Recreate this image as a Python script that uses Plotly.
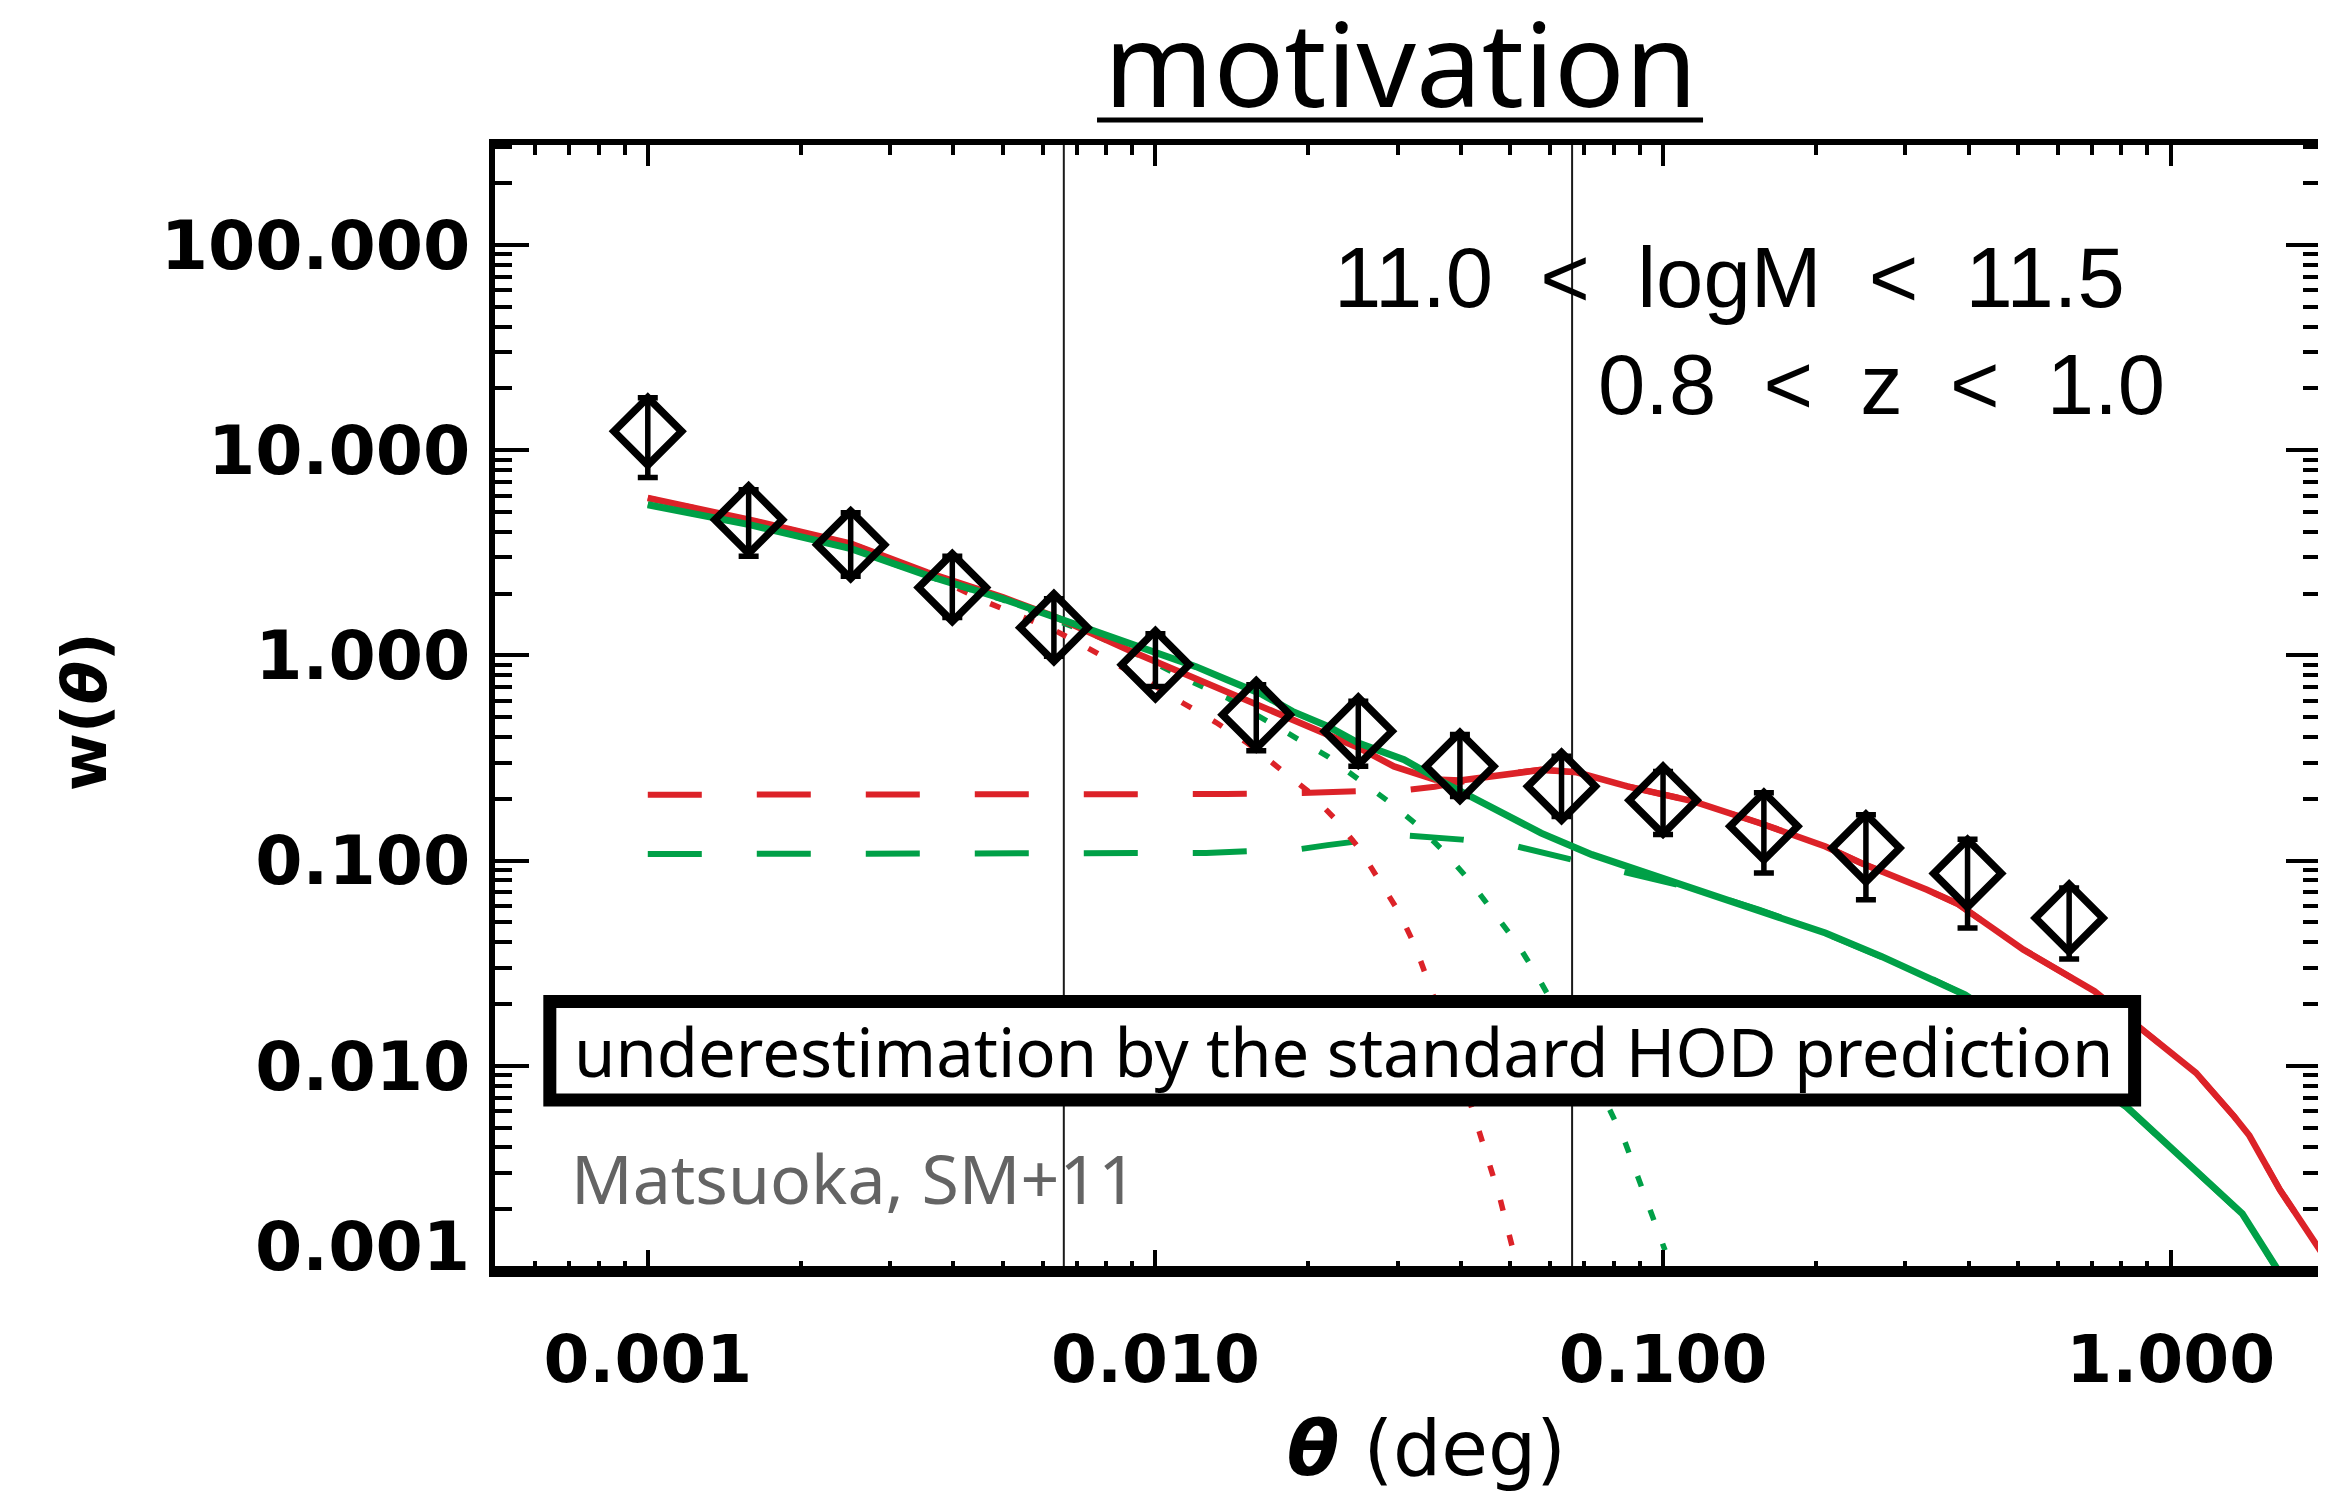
import plotly.graph_objects as go

# ---------------- data ----------------
theta_obs = [0.001, 0.00158, 0.00251, 0.00398, 0.00631, 0.01, 0.0158, 0.0251,
             0.0398, 0.0631, 0.1, 0.158, 0.251, 0.398, 0.631]
w_obs = [12.35, 4.58, 3.46, 2.14, 1.365, 0.901, 0.514, 0.427, 0.288, 0.230,
         0.197, 0.147, 0.115, 0.0866, 0.0525]
w_err_plus = [5.65, 1.84, 1.50, 0.90, 0.524, 0.375, 0.206, 0.170, 0.123, 0.092,
              0.075, 0.067, 0.052, 0.0405, 0.021]
w_err_minus = [5.0, 1.54, 1.03, 0.61, 0.376, 0.195, 0.171, 0.139, 0.0825, 0.066,
               0.063, 0.060, 0.0506, 0.0397, 0.0194]

# model 1 (red): total, 2-halo (dashed), 1-halo (dotted)
theta_red = [0.001, 0.001585, 0.002512, 0.003548, 0.005012, 0.00631, 0.008913, 0.01202,
             0.01585, 0.01995, 0.02512, 0.02951, 0.03548, 0.03981, 0.04467, 0.05012,
             0.05754, 0.06761, 0.08511, 0.1148, 0.1549, 0.2089, 0.2455, 0.3311, 0.3802,
             0.4467, 0.5129, 0.7079, 0.8913, 1.122, 1.334, 1.429, 1.641, 1.995]
w_red = [5.848, 4.581, 3.508, 2.541, 1.919, 1.549, 1.054, 0.7674, 0.5754, 0.4571,
         0.3548, 0.2877, 0.2483, 0.2455, 0.2541, 0.2661, 0.2767, 0.2692, 0.2301,
         0.1945, 0.1524, 0.1172, 0.09727, 0.07211, 0.06166, 0.04677, 0.03681,
         0.02307, 0.01445, 0.009226, 0.005662, 0.004571, 0.002489, 0.001202]

theta_red_2h = [0.001, 0.01, 0.0138, 0.0195, 0.02455, 0.03162, 0.03548, 0.03981,
                0.04467, 0.05012, 0.05754, 0.06761, 0.08511, 0.1148, 0.1549, 0.2089,
                0.2455, 0.3311, 0.3802, 0.4467, 0.5129, 0.7079, 0.8913, 1.122, 1.334,
                1.429, 1.641, 1.995]
w_red_2h = [0.2094, 0.2094, 0.2109, 0.2133, 0.2173, 0.2218, 0.2291, 0.2427,
            0.2541, 0.2661, 0.2767, 0.2692, 0.2301, 0.1945, 0.1524, 0.1172,
            0.09727, 0.07211, 0.06166, 0.04677, 0.03681, 0.02307, 0.01445,
            0.009226, 0.005662, 0.004571, 0.002489, 0.001202]

theta_red_1h = [0.001, 0.001585, 0.002512, 0.003548, 0.004613, 0.006295, 0.007261,
                0.008433, 0.009886, 0.01132, 0.01315, 0.01517, 0.01738, 0.01995,
                0.02249, 0.02518, 0.02754, 0.03013, 0.03251, 0.03451, 0.03945,
                0.04764, 0.05188]
w_red_1h = [5.848, 4.581, 3.508, 2.512, 1.832, 1.334, 1.107, 0.9016, 0.7194, 0.5861,
            0.4721, 0.3741, 0.2877, 0.2188, 0.1614, 0.1151, 0.08072, 0.05649,
            0.03819, 0.02576, 0.01023, 0.002301, 0.001]

# model 2 (green): total, 2-halo (dashed), 1-halo (dotted)
theta_green = [0.001, 0.001585, 0.002512, 0.003548, 0.005012, 0.006457, 0.008913,
               0.01202, 0.0138, 0.01622, 0.01862, 0.02188, 0.02512, 0.0309, 0.03715,
               0.04677, 0.05754, 0.07244, 0.08511, 0.1148, 0.1549, 0.2089, 0.2692,
               0.3311, 0.3936, 0.5623, 0.8185, 1.384, 1.66]
w_green = [5.42, 4.335, 3.311, 2.455, 1.884, 1.514, 1.161, 0.881, 0.7621, 0.6457,
           0.5333, 0.4508, 0.3741, 0.3105, 0.2388, 0.177, 0.1361, 0.1069, 0.09376,
           0.07345, 0.05768, 0.04436, 0.03412, 0.02729, 0.02218, 0.0123, 0.00631,
           0.001901, 0.000933]

theta_green_2h = [0.001, 0.01, 0.01259, 0.01514, 0.01932, 0.02183, 0.02466, 0.02818,
                  0.03162, 0.03548, 0.04018, 0.05152, 0.06546, 0.07943, 0.08511,
                  0.1148, 0.1549, 0.2089, 0.2692, 0.3311, 0.3936, 0.5623, 0.8185,
                  1.384, 1.66]
w_green_2h = [0.1076, 0.1076, 0.1089, 0.1109, 0.1138, 0.1189, 0.1242, 0.1288,
              0.1321, 0.1303, 0.1265, 0.1172, 0.1019, 0.0912, 0.088, 0.073,
              0.0575, 0.0442, 0.034, 0.0272, 0.0221, 0.01226, 0.00629, 0.001895,
              0.00093]

theta_green_1h = [0.001, 0.001585, 0.002512, 0.003548, 0.005012, 0.006531, 0.007482,
                  0.00869, 0.01026, 0.01194, 0.01387, 0.01614, 0.01875, 0.02183,
                  0.02518, 0.02904, 0.03273, 0.03724, 0.04169, 0.04634, 0.05152,
                  0.05636, 0.06607, 0.0787, 0.08414, 0.08933, 0.09506, 0.1009]
w_green_1h = [5.42, 4.335, 3.311, 2.438, 1.862, 1.462, 1.274, 1.084, 0.881, 0.7328,
              0.6194, 0.4955, 0.4027, 0.3221, 0.2477, 0.191, 0.1496, 0.1089, 0.07925,
              0.05649, 0.03963, 0.0278, 0.0138, 0.006039, 0.004256, 0.002851,
              0.001914, 0.001262]

# reference scales (vertical lines)
theta_vlines = [0.0066, 0.0662]

# axes
X_LOG_RANGE = [-3.301, 0.2942]
Y_LOG_RANGE = [-3.0, 2.487]
x_tickvals = [0.001, 0.01, 0.1, 1.0]
x_ticktext = ["0.001", "0.010", "0.100", "1.000"]
y_tickvals = [0.001, 0.01, 0.1, 1.0, 10.0, 100.0]
y_ticktext = ["", "0.010", "0.100", "1.000", "10.000", "100.000"]
x_minor = [m * 10.0 ** e for e in range(-4, 1) for m in range(2, 10)]
y_minor = [m * 10.0 ** e for e in range(-3, 3) for m in range(2, 10)]

RED = "#dc2228"
GREEN = "#00a047"

fig = go.Figure()

for v in theta_vlines:
    fig.add_trace(go.Scatter(x=[v, v], y=[10 ** Y_LOG_RANGE[0], 10 ** Y_LOG_RANGE[1]],
                             mode="lines", line=dict(color="#1a1a1a", width=2),
                             hoverinfo="skip"))

fig.add_trace(go.Scatter(x=theta_red_2h, y=w_red_2h, mode="lines",
                         line=dict(color=RED, width=6, dash="54px,55px")))
fig.add_trace(go.Scatter(x=theta_green_2h, y=w_green_2h, mode="lines",
                         line=dict(color=GREEN, width=6, dash="54px,55px")))
fig.add_trace(go.Scatter(x=theta_red_1h, y=w_red_1h, mode="lines",
                         line=dict(color=RED, width=5.5, dash="11px,25px")))
fig.add_trace(go.Scatter(x=theta_green_1h, y=w_green_1h, mode="lines",
                         line=dict(color=GREEN, width=5.5, dash="11px,25px")))
fig.add_trace(go.Scatter(x=theta_red, y=w_red, mode="lines",
                         line=dict(color=RED, width=6.5)))
fig.add_trace(go.Scatter(x=theta_green, y=w_green, mode="lines",
                         line=dict(color=GREEN, width=7)))

fig.add_trace(go.Scatter(
    x=theta_obs, y=w_obs, mode="markers",
    marker=dict(symbol="diamond-open", size=52, color="black",
                line=dict(color="black", width=7.5)),
    error_y=dict(type="data", symmetric=False, array=w_err_plus,
                 arrayminus=w_err_minus, color="black", thickness=5.5, width=10),
))

# the page body has an 8px margin: the figure is drawn 8px smaller
BODY = 8
W, H = 2326 - BODY, 1495 - BODY
L, R, T, B = 495 - BODY, 0, 145 - BODY, 224
PW, PH = W - L - R, H - T - B


def px(xr):
    # reference-picture x pixel -> paper coordinate
    return (xr - BODY - L) / PW


def py(yr):
    # reference-picture y pixel -> paper coordinate
    return (H - B - (yr - BODY)) / PH


tick_font_y = dict(family="DejaVu Sans", size=68, color="black", weight="bold")
tick_font_x = dict(family="DejaVu Sans", size=66, color="black", weight="bold")

fig.update_layout(
    width=W, height=H,
    margin=dict(l=L, r=R, t=T, b=B, pad=0),
    paper_bgcolor="white", plot_bgcolor="white",
    showlegend=False,
    xaxis=dict(
        type="log", range=X_LOG_RANGE,
        tickmode="array", tickvals=x_tickvals, ticktext=x_ticktext,
        ticks="inside", ticklen=21, tickwidth=4, tickcolor="black",
        showline=True, linewidth=6, linecolor="black", mirror="ticks",
        showgrid=False, zeroline=False, tickfont=tick_font_x,
        ticklabelstandoff=26,
        minor=dict(tickmode="array", tickvals=x_minor, ticks="inside",
                   ticklen=10, tickwidth=4, tickcolor="black", showgrid=False),
    ),
    yaxis=dict(
        type="log", range=Y_LOG_RANGE,
        tickmode="array", tickvals=y_tickvals, ticktext=y_ticktext,
        ticks="inside", ticklen=34, tickwidth=4, tickcolor="black",
        showline=True, linewidth=6, linecolor="black", mirror="ticks",
        showgrid=False, zeroline=False, tickfont=tick_font_y,
        ticklabelstandoff=5,
        minor=dict(tickmode="array", tickvals=y_minor, ticks="inside",
                   ticklen=17, tickwidth=4, tickcolor="black", showgrid=False),
    ),
)

shapes = [
    # thicker bottom axis
    dict(type="line", xref="paper", yref="paper", x0=0, x1=1, y0=0, y1=0,
         line=dict(color="black", width=10), layer="above"),
    # title underline
    dict(type="line", xref="paper", yref="paper", x0=px(1099), x1=px(1707),
         y0=py(120), y1=py(120), line=dict(color="black", width=5), layer="above"),
    # boxed message
    dict(type="rect", xref="paper", yref="paper", x0=px(550), x1=px(2140),
         y0=py(1100), y1=py(1001.5), fillcolor="white",
         line=dict(color="black", width=13), layer="above"),
]
fig.update_layout(shapes=shapes)

annotations = [
    dict(text="motivation", xref="paper", yref="paper", x=px(1403), y=py(62),
         xanchor="center", yanchor="middle", showarrow=False,
         font=dict(family="Noto Sans", size=117, color="black")),
    dict(text="0.001", xref="paper", yref="y", x=0, y=Y_LOG_RANGE[0],
         xanchor="right", yanchor="middle", xshift=-23, yshift=25, showarrow=False,
         font=tick_font_y),
    dict(text="11.0\u00a0\u00a0&lt;\u00a0\u00a0logM\u00a0\u00a0&lt;\u00a0\u00a011.5",
         xref="paper", yref="paper", x=px(2132), y=py(277),
         xanchor="right", yanchor="middle", showarrow=False,
         font=dict(family="Liberation Sans", size=85, color="black")),
    dict(text="0.8\u00a0\u00a0&lt;\u00a0\u00a0z\u00a0\u00a0&lt;\u00a0\u00a01.0",
         xref="paper", yref="paper", x=px(2172), y=py(384),
         xanchor="right", yanchor="middle", showarrow=False,
         font=dict(family="Liberation Sans", size=85, color="black")),
    dict(text="underestimation by the standard HOD prediction",
         xref="paper", yref="paper", x=px(1347), y=py(1051),
         xanchor="center", yanchor="middle", showarrow=False,
         font=dict(family="Noto Sans", size=67, color="black")),
    dict(text="Matsuoka, SM+11", xref="paper", yref="paper", x=px(569), y=py(1177),
         xanchor="left", yanchor="middle", showarrow=False,
         font=dict(family="Noto Sans", size=68, color="#646464")),
    dict(text="<b><i>θ</i></b> (deg)", xref="paper", yref="paper", x=px(1430), y=py(1448),
         xanchor="center", yanchor="middle", showarrow=False,
         font=dict(family="DejaVu Sans", size=76, color="black")),
    dict(text="<b>w(<i>θ</i>)</b>", xref="paper", yref="paper", x=px(84), y=py(712),
         xanchor="center", yanchor="middle", textangle=-90, showarrow=False,
         font=dict(family="DejaVu Sans", size=63, color="black")),
]
fig.update_layout(annotations=annotations)

fig.write_html("out.html")
